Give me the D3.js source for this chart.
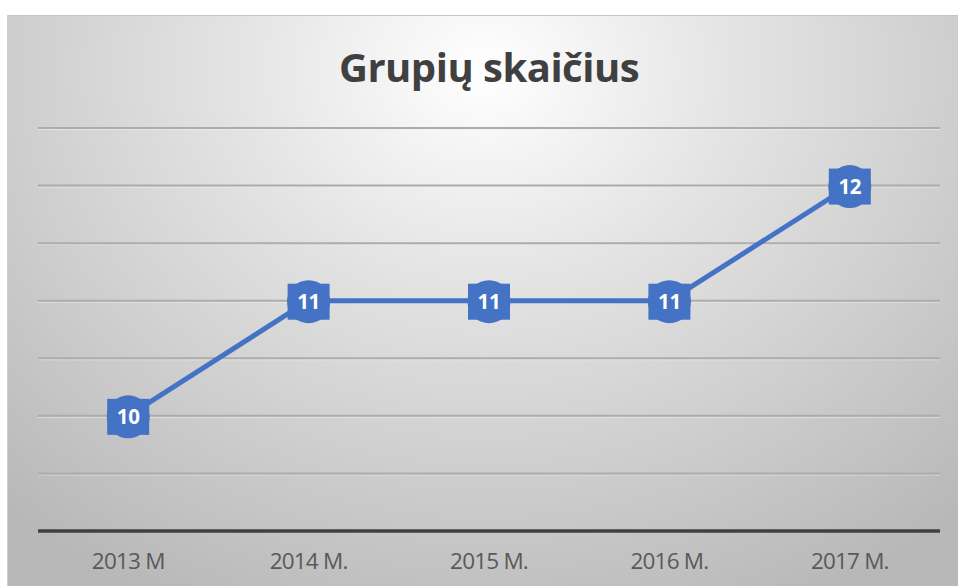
<!DOCTYPE html>
<html>
<head>
<meta charset="utf-8">
<script src="https://cdn.jsdelivr.net/npm/d3@7/dist/d3.min.js"></script>
<style>
  html, body { margin: 0; padding: 0; background: #ffffff; }
  svg { display: block; }
</style>
</head>
<body>
<svg id="chart" width="958" height="586"></svg>
<script>
const title = "Grupių skaičius";
const categories = ["2013 M", "2014 M.", "2015 M.", "2016 M.", "2017 M."];
const values = [10, 11, 11, 11, 12];
const yDomain = [9, 12.5];
const gridValues = [9.5, 10, 10.5, 11, 11.5, 12, 12.5];

const W = 958, H = 586;
const svg = d3.select("#chart");

const defs = svg.append("defs");
const grad = defs.append("radialGradient")
  .attr("id", "bg")
  .attr("gradientUnits", "userSpaceOnUse")
  .attr("cx", 485).attr("cy", 70).attr("r", 700)
  .attr("gradientTransform", "translate(485,70) scale(1,0.85) translate(-485,-70)");
grad.append("stop").attr("offset", "0").attr("stop-color", "#ffffff");
grad.append("stop").attr("offset", "0.35").attr("stop-color", "#e4e4e4");
grad.append("stop").attr("offset", "1").attr("stop-color", "#b8b8b8");

// chart area
svg.append("rect").attr("x", 7).attr("y", 15).attr("width", W - 7).attr("height", H - 15)
  .attr("fill", "url(#bg)");
svg.append("line").attr("x1", 7).attr("x2", W).attr("y1", 15.5).attr("y2", 15.5)
  .attr("stroke", "#c4c4c4").attr("stroke-width", 1);
svg.append("line").attr("x1", 7.5).attr("x2", 7.5).attr("y1", 15).attr("y2", H)
  .attr("stroke", "#cfcfcf").attr("stroke-width", 1);

const plot = { left: 38, right: 940, top: 128, bottom: 531 };

const x = d3.scaleBand().domain(categories).range([plot.left, plot.right]).padding(0);
const y = d3.scaleLinear().domain(yDomain).range([plot.bottom, plot.top]);

// gridlines
svg.append("g").selectAll("line.shadow").data(gridValues).join("line")
  .attr("x1", plot.left).attr("x2", plot.right)
  .attr("y1", d => y(d) + 1.5).attr("y2", d => y(d) + 1.5)
  .attr("stroke", "#f2f2f2").attr("stroke-opacity", 0.6).attr("stroke-width", 1);
svg.append("g").selectAll("line.grid").data(gridValues).join("line")
  .attr("x1", plot.left).attr("x2", plot.right)
  .attr("y1", d => y(d)).attr("y2", d => y(d))
  .attr("stroke", "#acacac").attr("stroke-width", 2);

// x axis
const xAxis = d3.axisBottom(x).tickSize(0).tickPadding(22);
const gx = svg.append("g").attr("transform", `translate(0,${y(yDomain[0])})`).call(xAxis);
gx.select(".domain").attr("stroke", "#404040").attr("stroke-width", 3.5)
  .attr("d", `M${plot.left},0H${plot.right}`);
gx.selectAll("text")
  .attr("font-family", "'Open Sans', sans-serif")
  .attr("font-size", 22.5)
  .attr("fill", "#595959")
  .attr("letter-spacing", -0.8);

// line
const cx = d => x(d.cat) + x.bandwidth() / 2;
const pts = categories.map((c, i) => ({ cat: c, v: values[i] }));
const line = d3.line().x(cx).y(d => y(d.v));
svg.append("path").datum(pts)
  .attr("d", line)
  .attr("fill", "none")
  .attr("stroke", "#4472C4")
  .attr("stroke-width", 5)
  .attr("stroke-linejoin", "round");

// markers + labels
const mk = svg.append("g").selectAll("g").data(pts).join("g")
  .attr("transform", d => `translate(${cx(d)},${y(d.v) + 1})`);
mk.append("circle").attr("r", 21.5).attr("fill", "#4472C4");
mk.append("rect").attr("x", -21).attr("y", -18).attr("width", 42).attr("height", 36)
  .attr("fill", "#4472C4");
mk.append("text")
  .attr("text-anchor", "middle")
  .attr("dy", "0.36em")
  .attr("font-family", "'Open Sans', sans-serif")
  .attr("font-weight", "bold")
  .attr("font-size", 20.5)
  .attr("fill", "#ffffff")
  .attr("letter-spacing", -0.3)
  .text(d => d.v);

// title
svg.append("text")
  .attr("x", 489).attr("y", 82)
  .attr("text-anchor", "middle")
  .attr("font-family", "'Open Sans', sans-serif")
  .attr("font-weight", "bold")
  .attr("font-size", 40)
  .attr("fill", "#404040")
  .attr("letter-spacing", -0.5)
  .text(title);
</script>
</body>
</html>
